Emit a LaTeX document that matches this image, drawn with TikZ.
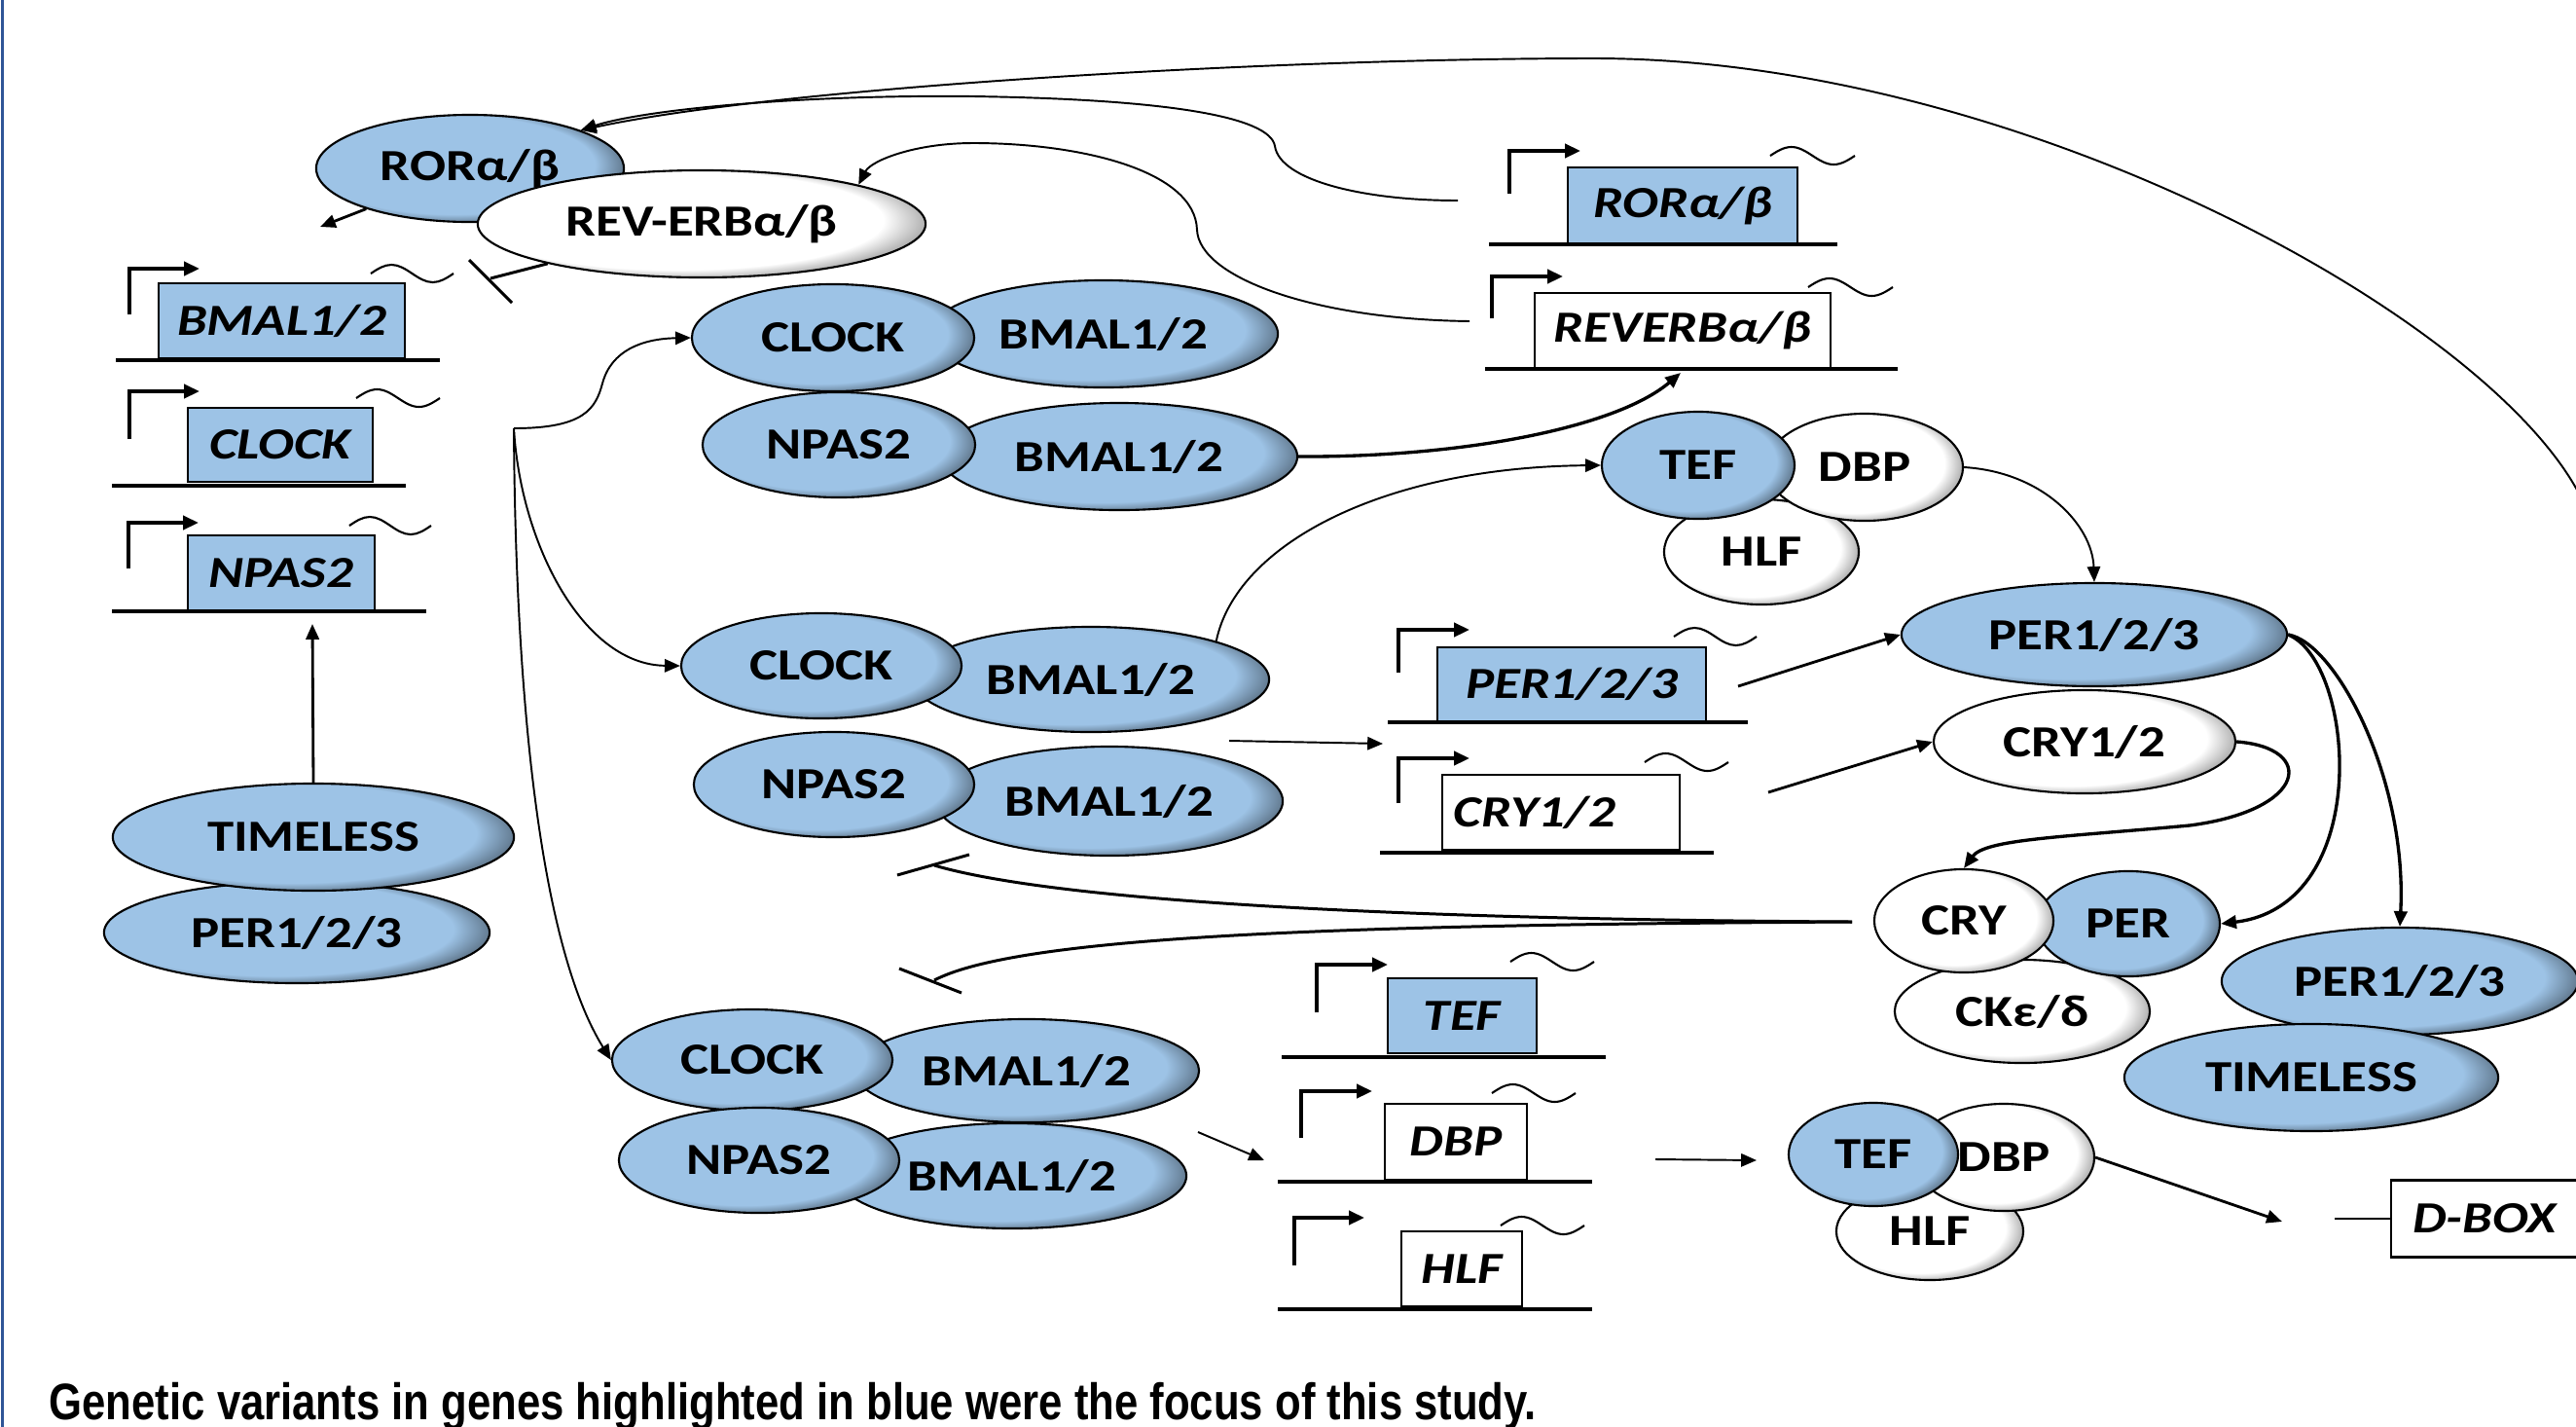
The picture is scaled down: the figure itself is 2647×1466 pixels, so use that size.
\documentclass[tikz,border=0pt]{standalone}
\usepackage{fontspec}
\newfontfamily\lab{Carlito}[FakeStretch=1.2]
\newfontfamily\capfont{Liberation Sans}[FakeStretch=0.828]
\usetikzlibrary{shapes.geometric,arrows.meta}
\definecolor{ellblue}{RGB}{157,195,230}
\definecolor{framecol}{RGB}{47,85,151}
\pgfdeclareradialshading{whiteshade}{\pgfpoint{-5bp}{3bp}}{color(0bp)=(white); color(23bp)=(white); color(30bp)=(black!50); color(50bp)=(black!50)}
\pgfdeclareradialshading{blueshade}{\pgfpoint{-5bp}{3bp}}{color(0bp)=(ellblue); color(23bp)=(ellblue); color(30bp)=(ellblue!40!black); color(50bp)=(ellblue!40!black)}
\newcommand\tld[3]{\draw[tildestyle] (#1,#3) sin ({#1+(#2-#1)/4},{#3-9}) cos ({(#1+#2)/2},#3) sin ({#1+3*(#2-#1)/4},{#3+9}) cos (#2,#3);}
\begin{document}
\begin{tikzpicture}[x=0.01cm,y=-0.01cm,
  ell/.style={ellipse, draw, line width=0.6pt, inner sep=0pt, font=\lab\bfseries\fontsize{13}{15}\selectfont},
  bell/.style={ell, shading=blueshade},
  well/.style={ell, shading=whiteshade},
  gbox/.style={rectangle, draw, line width=0.6pt, inner sep=0pt, font=\lab\bfseries\itshape\fontsize{13}{15}\selectfont},
  bgene/.style={gbox, fill=ellblue},
  wgene/.style={gbox, fill=white},
  arr/.style={-{Triangle[length=4.5pt,width=3.8pt]}},
  prom/.style={line width=1pt, -{Triangle[length=4.5pt,width=4pt]}},
  base/.style={line width=1.1pt},
  tildestyle/.style={line width=0.6pt},
  thinc/.style={line width=0.55pt},
  med/.style={line width=0.8pt},
  thk/.style={line width=0.95pt},
  inh/.style={line width=0.85pt}]
\useasboundingbox (0,0) rectangle (2647,1466);
\fill[white] (0,0) rectangle (2647,1466);
\draw[framecol, line width=0.6pt] (2.5,0) -- (2.5,1466);

% coordinates
\coordinate (rorOut) at (329,233);
\coordinate (revInh) at (504,286);
\coordinate (revBarA) at (482,267);
\coordinate (revBarB) at (526,311);
\coordinate (offR) at (2665,545);
\coordinate (rorGeneL) at (1498,206);
\coordinate (revGeneL) at (1510,330);
\coordinate (hub) at (528,440);
\coordinate (revTarget) at (1727,383);
\coordinate (midA) at (1263,761);
\coordinate (midB) at (1421,764);
\coordinate (perGeneR) at (1786,705);
\coordinate (cryGeneR) at (1817,814);
\coordinate (cryInh) at (1903,947);
\coordinate (inhU) at (960,889);
\coordinate (barU1) at (922,899);
\coordinate (barU2) at (996,878);
\coordinate (inhL) at (960,1007);
\coordinate (barL1) at (924,995);
\coordinate (barL2) at (988,1020);
\coordinate (bmalEout) at (1231,1163);
\coordinate (dbpIn) at (1299,1192);
\coordinate (dbpGeneR) at (1701,1191);
\coordinate (tefBin) at (1805,1192);
\coordinate (dboxArrow) at (2345,1255);
\coordinate (dboxLine) at (2399,1252);
\coordinate (npasGeneUp) at (321,641);

% ---------- genes ----------
\node[bgene, minimum width=2.53cm, minimum height=0.77cm] (gBmal) at (289.5,329.5) {BMAL1/2};
\draw[prom] (133,323) -- (133,276) -- (205,276);
\draw[base] (119,370) -- (452,370);
\tld{381}{466}{281}

\node[bgene, minimum width=1.90cm, minimum height=0.76cm] (gClock) at (288,457) {CLOCK};
\draw[prom] (133,451) -- (133,402) -- (205,402);
\draw[base] (115,499) -- (417,499);
\tld{366}{452}{409}

\node[bgene, minimum width=1.92cm, minimum height=0.77cm] (gNpas) at (289,588.5) {NPAS2};
\draw[prom] (132,584) -- (132,537) -- (204,537);
\draw[base] (115,628) -- (438,628);
\tld{359}{443}{540}

\node[bgene, minimum width=2.36cm, minimum height=0.78cm] (gRor) at (1729,211) {RORα/β};
\draw[prom] (1551,199) -- (1551,155) -- (1624,155);
\draw[base] (1530,251) -- (1888,251);
\tld{1819}{1906}{160}

\node[wgene, minimum width=3.04cm, minimum height=0.77cm] (gRev) at (1729,339.5) {REVERBα/β};
\draw[prom] (1533,327) -- (1533,284) -- (1606,284);
\draw[base] (1526,379) -- (1950,379);
\tld{1858}{1945}{295}

\node[bgene, minimum width=2.76cm, minimum height=0.76cm] (gPer) at (1615,703) {PER1/2/3};
\draw[prom] (1437,691) -- (1437,647) -- (1510,647);
\draw[base] (1426,742) -- (1796,742);
\tld{1720}{1805}{654}

\node[wgene, minimum width=2.44cm, minimum height=0.77cm, text width=2.2cm, align=left] (gCry) at (1604,834.5) {CRY1/2};
\draw[prom] (1437,825) -- (1437,779) -- (1510,779);
\draw[base] (1418,876) -- (1761,876);
\tld{1690}{1776}{783}

\node[bgene, minimum width=1.53cm, minimum height=0.77cm] (gTef) at (1502.5,1043.5) {TEF};
\draw[prom] (1353,1040) -- (1353,991) -- (1426,991);
\draw[base] (1317,1086) -- (1650,1086);
\tld{1552}{1638}{988}

\node[wgene, minimum width=1.46cm, minimum height=0.78cm] (gDbp) at (1496,1173) {DBP};
\draw[prom] (1337,1169) -- (1337,1121) -- (1410,1121);
\draw[base] (1313,1214) -- (1636,1214);
\tld{1533}{1619}{1123}

\node[wgene, minimum width=1.24cm, minimum height=0.77cm] (gHlf) at (1502,1303.5) {HLF};
\draw[prom] (1330,1300) -- (1330,1251) -- (1402,1251);
\draw[base] (1313,1345) -- (1636,1345);
\tld{1542}{1628}{1259}

\node[wgene, minimum width=1.92cm, minimum height=0.79cm] (dbox) at (2553,1252) {D-BOX};

% ---------- proteins ----------
\node[bell, minimum width=3.16cm, minimum height=1.10cm] (ror) at (483,173) {RORα/β};
\node[well, minimum width=4.60cm, minimum height=1.10cm] (reverb) at (721,230) {REV-ERBα/β};

\node[bell, minimum width=3.58cm, minimum height=1.10cm] (bmalA) at (1134,343) {BMAL1/2};
\node[bell, minimum width=2.90cm, minimum height=1.10cm] (clockA) at (856,347) {CLOCK};
\node[bell, minimum width=3.66cm, minimum height=1.10cm] (bmalB) at (1150,469) {BMAL1/2};
\node[bell, minimum width=2.80cm, minimum height=1.08cm] (npasA) at (862,457) {NPAS2};

\node[bell, minimum width=3.66cm, minimum height=1.08cm] (bmalC) at (1121,698) {BMAL1/2};
\node[bell, minimum width=2.88cm, minimum height=1.08cm] (clockB) at (844,684) {CLOCK};
\node[bell, minimum width=3.56cm, minimum height=1.12cm] (bmalD) at (1140,823) {BMAL1/2};
\node[bell, minimum width=2.88cm, minimum height=1.08cm] (npasB) at (857,806) {NPAS2};

\node[bell, minimum width=3.54cm, minimum height=1.06cm] (bmalE) at (1055,1100) {BMAL1/2};
\node[bell, minimum width=2.88cm, minimum height=1.04cm] (clockC) at (773,1089) {CLOCK};
\node[bell, minimum width=3.58cm, minimum height=1.08cm] (bmalF) at (1040,1208) {BMAL1/2};
\node[bell, minimum width=2.88cm, minimum height=1.08cm] (npasC) at (780,1192) {NPAS2};

\node[well, minimum width=2.00cm, minimum height=1.08cm] (hlfA) at (1810,567) {HLF};
\node[well, minimum width=2.02cm, minimum height=1.10cm] (dbpA) at (1916,480) {DBP};
\node[bell, minimum width=1.98cm, minimum height=1.10cm] (tefA) at (1745,478) {TEF};

\node[bell, minimum width=3.96cm, minimum height=1.06cm] (per1) at (2152,652) {PER1/2/3};
\node[well, minimum width=3.10cm, minimum height=1.06cm] (cry1) at (2142,762) {CRY1/2};
\node[well, minimum width=2.62cm, minimum height=1.06cm] (ck) at (2078,1039) {CKε/δ};
\node[bell, minimum width=1.88cm, minimum height=1.08cm] (perC) at (2187,949) {PER};
\node[well, minimum width=1.84cm, minimum height=1.06cm] (cryC) at (2018,946) {CRY};
\node[bell, minimum width=3.66cm, minimum height=1.10cm] (per2) at (2466,1008) {PER1/2/3};
\node[bell, minimum width=3.84cm, minimum height=1.10cm] (tim2) at (2375,1107) {TIMELESS};

\node[bell, minimum width=3.96cm, minimum height=1.04cm] (per3) at (305,958) {PER1/2/3};
\node[bell, minimum width=4.12cm, minimum height=1.10cm] (tim1) at (322,860) {TIMELESS};

\node[well, minimum width=1.92cm, minimum height=1.00cm] (hlfB) at (1983,1265) {HLF};
\node[well, minimum width=1.86cm, minimum height=1.10cm] (dbpB) at (2059,1189) {DBP};
\node[bell, minimum width=1.74cm, minimum height=1.06cm] (tefB) at (1925,1186) {TEF};

% ---------- connectors ----------
\draw[med, arr] (ror) -- (rorOut);
\draw[inh] (reverb) -- (revInh);
\draw[inh] (revBarA) -- (revBarB);

\draw[thinc, arr] (offR) .. controls (2620,360) and (2100,60) .. (1638,60) .. controls (1300,60) and (800,90) .. (ror.19);
\draw[thinc, arr] (rorGeneL) .. controls (1400,206) and (1315,185) .. (1310,150) .. controls (1305,120) and (1200,102) .. (1000,99) .. controls (820,97) and (660,113) .. (ror.19);
\draw[thinc, arr] (revGeneL) .. controls (1350,328) and (1232,285) .. (1230,236) .. controls (1228,175) and (1110,147) .. (1000,147) .. controls (940,147) and (895,165) .. (reverb.14);

\draw[thinc, arr] (hub) .. controls (600,440) and (612,420) .. (619,394) .. controls (628,360) and (660,348) .. (clockA.west);
\draw[thinc, arr] (hub) .. controls (535,560) and (600,683) .. (clockB.west);
\draw[thinc, arr] (hub) .. controls (530,750) and (560,980) .. (clockC.west);

\draw[thk, arr] (bmalB.east) .. controls (1500,470) and (1660,440) .. (revTarget);
\draw[thinc, arr] (bmalC.17) .. controls (1270,560) and (1420,480) .. (tefA.west);
\draw[thinc, arr] (midA) -- (midB);
\draw[med, arr] (perGeneR) -- (per1.west);
\draw[med, arr] (cryGeneR) -- (cry1.west);
\draw[thinc, arr] (dbpA.east) .. controls (2100,485) and (2150,540) .. (per1.north);
\draw[thk, arr] (cry1.east) .. controls (2380,768) and (2372,832) .. (2250,848) .. controls (2120,860) and (2040,862) .. (cryC.north);
\draw[thk, arr] (per1.east) .. controls (2420,680) and (2440,930) .. (perC.east);
\draw[thk, arr] (per1.east) .. controls (2400,660) and (2474,800) .. (per2.north);

\draw[inh] (cryInh) .. controls (1500,945) and (1100,930) .. (inhU);
\draw[inh] (barU1) -- (barU2);
\draw[inh] (cryInh) .. controls (1400,950) and (1050,960) .. (inhL);
\draw[inh] (barL1) -- (barL2);

\draw[thinc, arr] (bmalEout) -- (dbpIn);
\draw[thinc, arr] (dbpGeneR) -- (tefBin);
\draw[med, arr] (dbpB.east) -- (dboxArrow);
\draw[thinc] (dboxLine) -- (dbox.west);
\draw[med, arr] (tim1.north) -- (npasGeneUp);

\node[anchor=base west, inner sep=0pt, font=\capfont\bfseries\fontsize{15}{18}\selectfont] (caption) at (50,1458) {Genetic variants in genes highlighted in blue were the focus of this study.};
\end{tikzpicture}
\end{document}
